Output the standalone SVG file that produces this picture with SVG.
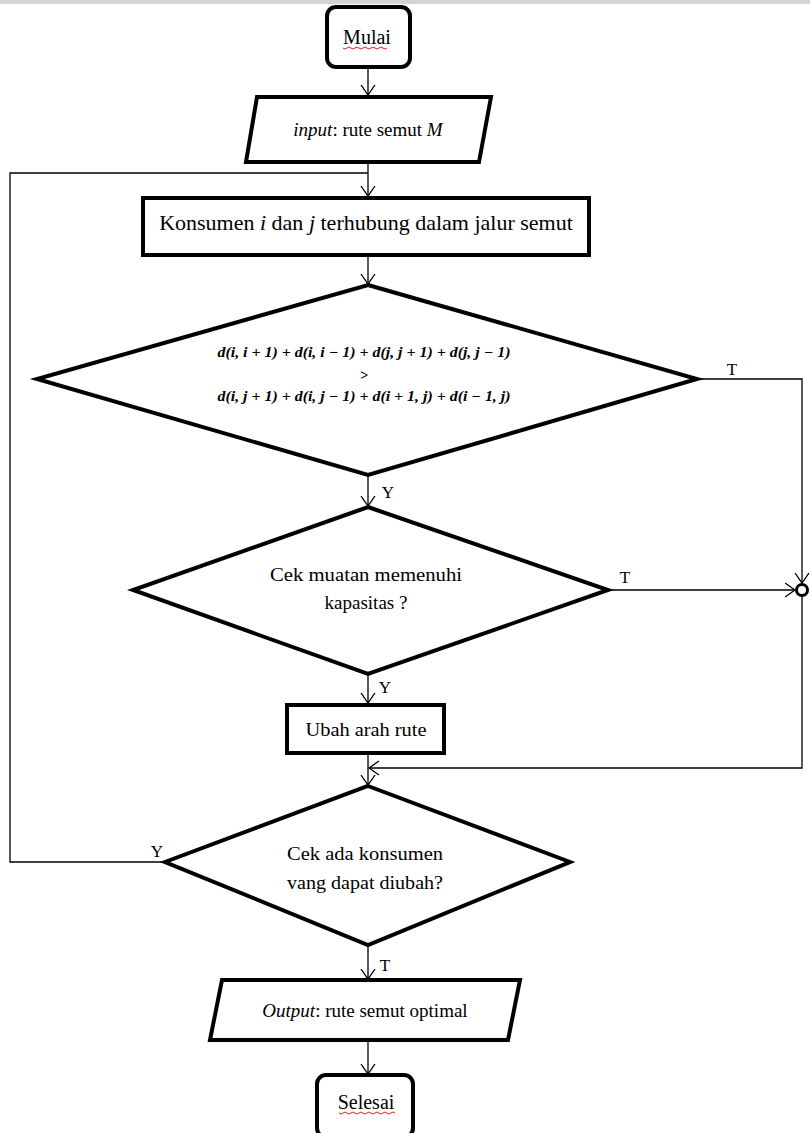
<svg xmlns="http://www.w3.org/2000/svg" width="810" height="1133" viewBox="0 0 810 1133">
<style>
.n{fill:#fff;stroke:#000;stroke-width:4;stroke-linejoin:miter}
.t{font-family:"Liberation Serif","Times New Roman",serif;fill:#000;text-anchor:middle}
.c{fill:none;stroke:#000;stroke-width:1.3}
.f{font-family:"Liberation Serif","Times New Roman",serif;font-weight:bold;font-style:italic;font-size:14px;text-anchor:middle;fill:#000}
.sq{fill:none;stroke:#e02020;stroke-width:1}
</style>
<defs>
<marker id="a" markerUnits="userSpaceOnUse" markerWidth="14" markerHeight="16" refX="10" refY="8" orient="auto">
<path d="M0,1 L10,8 L0,15" fill="none" stroke="#000" stroke-width="1.3"/>
</marker>
</defs>
<rect x="0" y="0" width="810" height="4" fill="#d4d4d4"/>
<g id="connectors">
<line class="c" x1="368" y1="67" x2="368" y2="95" marker-end="url(#a)"/>
<line class="c" x1="368" y1="163" x2="368" y2="196" marker-end="url(#a)"/>
<line class="c" x1="368" y1="256" x2="368" y2="284" marker-end="url(#a)"/>
<line class="c" x1="368" y1="475" x2="368" y2="506" marker-end="url(#a)"/>
<line class="c" x1="368" y1="674" x2="368" y2="703" marker-end="url(#a)"/>
<line class="c" x1="368" y1="755" x2="368" y2="785" marker-end="url(#a)"/>
<line class="c" x1="368" y1="945" x2="368" y2="979" marker-end="url(#a)"/>
<line class="c" x1="368" y1="1040" x2="368" y2="1074" marker-end="url(#a)"/>
<polyline class="c" points="697,379 802,379 802,583" marker-end="url(#a)"/>
<line class="c" x1="608" y1="590" x2="795" y2="590" marker-end="url(#a)"/>
<polyline class="c" points="802,597 802,768 369,768" marker-end="url(#a)"/>
<polyline class="c" points="165,862 10,862 10,173 368,173"/>
<circle cx="802" cy="590" r="5.5" fill="#fff" stroke="#000" stroke-width="3"/>
<text class="t" x="732" y="375" font-size="17">T</text>
<text class="t" x="388" y="498" font-size="17">Y</text>
<text class="t" x="625" y="583" font-size="17">T</text>
<text class="t" x="385" y="693" font-size="17">Y</text>
<text class="t" x="157" y="857" font-size="17">Y</text>
<text class="t" x="385" y="971" font-size="17">T</text>
</g>
<g id="mulai">
<rect class="n" x="327" y="7" width="83" height="60" rx="9"/>
<text class="t" x="367" y="44" font-size="20">Mulai</text>
<path class="sq" d="M343,48 q2,2 4,0 t4,0 t4,0 t4,0 t4,0 t4,0 t4,0 t4,0 t4,0 t4,0 t4,0"/>
</g>
<g id="input">
<polygon class="n" points="257,97 491,97 479,162 246,162"/>
<text class="t" x="368" y="136" font-size="19"><tspan font-style="italic">input</tspan>: rute semut <tspan font-style="italic">M</tspan></text>
</g>
<g id="konsumen">
<rect class="n" x="143" y="198" width="446" height="57"/>
<text class="t" x="366" y="230" font-size="22">Konsumen <tspan font-style="italic">i</tspan> dan <tspan font-style="italic">j</tspan> terhubung dalam jalur semut</text>
</g>
<g id="decision1">
<polygon class="n" points="368,285 697,379 368,475 37,379"/>
<text class="f" x="364" y="357" textLength="293" lengthAdjust="spacingAndGlyphs">d(i, i + 1) + d(i, i − 1) + d(j, j + 1) + d(j, j − 1)</text>
<text class="f" x="364" y="380">&gt;</text>
<text class="f" x="364" y="401" textLength="293" lengthAdjust="spacingAndGlyphs">d(i, j + 1) + d(i, j − 1) + d(i + 1, j) + d(i − 1, j)</text>
</g>
<g id="decision2">
<polygon class="n" points="368,507 608,590 368,674 133,590"/>
<text class="t" x="366" y="581" font-size="19" textLength="192" lengthAdjust="spacingAndGlyphs">Cek muatan memenuhi</text>
<text class="t" x="366" y="609" font-size="19">kapasitas ?</text>
</g>
<g id="ubah">
<rect class="n" x="287" y="705" width="157" height="48"/>
<text class="t" x="366" y="736" font-size="19" textLength="121" lengthAdjust="spacingAndGlyphs">Ubah arah rute</text>
</g>
<g id="decision3">
<polygon class="n" points="368,786 570,862 368,945 165,862"/>
<text class="t" x="365" y="860" font-size="19" textLength="156" lengthAdjust="spacingAndGlyphs">Cek ada konsumen</text>
<text class="t" x="365" y="889" font-size="19" textLength="156" lengthAdjust="spacingAndGlyphs">vang dapat diubah?</text>
</g>
<g id="output">
<polygon class="n" points="222,980 520,980 508,1040 210,1040"/>
<text class="t" x="365" y="1017" font-size="19"><tspan font-style="italic">Output</tspan>: rute semut optimal</text>
</g>
<g id="selesai">
<rect class="n" x="317" y="1075" width="96" height="62" rx="9"/>
<text class="t" x="366" y="1109" font-size="20">Selesai</text>
<path class="sq" d="M339,1113 q2,2 4,0 t4,0 t4,0 t4,0 t4,0 t4,0 t4,0 t4,0 t4,0 t4,0 t4,0 t4,0 t4,0 t4,0"/>
</g>
</svg>
